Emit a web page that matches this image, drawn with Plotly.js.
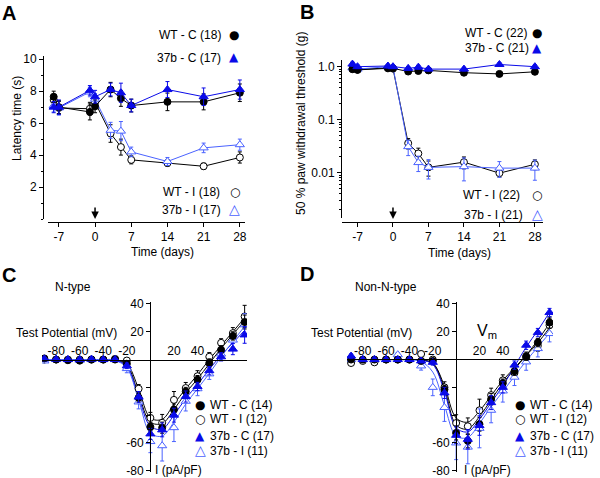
<!DOCTYPE html>
<html><head><meta charset="utf-8">
<script src="https://cdn.plot.ly/plotly-3.0.1.min.js"></script>
<style>html,body{margin:0;padding:0;background:#fff}#g{width:600px;height:478px}</style>
</head><body><div id="g"></div>
<script>
// ---------- DATA ----------
const days = [-8, -7, -1, 0, 3, 5, 7, 14, 21, 28];
const dayTicks = [-7, 0, 7, 14, 21, 28];
const dayTickText = ['-7', '0', '7', '14', '21', '28'];

// Panel A: latency time (s)
const A_WTC = [7.65, 7.0, 6.7, 7.05, 8.1, 7.55, 7.1, 7.33, 7.33, 7.9];
const A_WTC_err = [0.35, 0.4, 0.5, 0.4, 0.45, 0.5, 0.4, 0.55, 0.5, 0.55];
const A_37C = [7.0, 7.0, 8.05, 7.65, 8.1, 7.9, 7.1, 8.1, 7.65, 8.1];
const A_37C_err = [0.35, 0.45, 0.3, 0.4, 0.4, 0.6, 0.4, 0.5, 0.55, 0.6];
const A_WTI = [7.45, 6.95, 6.9, 7.3, 5.35, 4.5, 3.7, 3.5, 3.3, 3.85];
const A_WTI_err = [0.35, 0.4, 0.4, 0.4, 0.55, 0.5, 0.25, 0.2, 0.2, 0.35];
const A_37I = [7.1, 6.95, 7.95, 7.5, 5.55, 5.5, 4.2, 3.6, 4.45, 4.65];
const A_37I_err = [0.4, 0.45, 0.3, 0.35, 0.5, 0.6, 0.3, 0.25, 0.3, 0.35];
const A_ticks = [2, 4, 6, 8, 10];

// Panel B: 50 % paw withdrawal threshold (g)
const B_WTC = [0.9, 0.87, 0.93, 0.93, 0.81, 0.83, 0.85, 0.77, 0.73, 0.8];
const B_WTC_err = [0.08, 0.06, 0.08, 0.07, 0.06, 0.07, 0.06, 0.06, 0.06, 0.06];
const B_37C = [1.12, 1.0, 1.03, 1.0, 0.93, 0.98, 0.9, 0.9, 1.1, 1.0];
const B_37C_err = [0.1, 0.08, 0.08, 0.07, 0.07, 0.08, 0.07, 0.07, 0.08, 0.08];
const B_WTI = [0.9, 0.88, 0.95, 0.92, 0.036, 0.023, 0.0126, 0.0158, 0.0098, 0.0144];
const B_WTI_err = [0.08, 0.07, 0.08, 0.07, 0.008, 0.006, 0.004, 0.004, 0.0015, 0.003];
const B_37I = [0.95, 0.9, 1.0, 0.98, 0.031, 0.0155, 0.0126, 0.013, 0.0122, 0.0122];
const B_37I_err = [0.1, 0.08, 0.08, 0.08, 0.01, 0.005, 0.005, 0.006, 0.004, 0.005];
const B_ticks = [0.01, 0.1, 1];
const B_tickText = ['0.01', '0.1', '1.0'];

// Panels C/D: I-V relations
const mV = [-90, -80, -70, -60, -50, -40, -30, -20, -10, 0, 10, 20, 30, 40, 50, 60, 70, 80];
const ivTicksX = [-80, -60, -40, -20, 20, 40];
const ivTickTextX = ['-80', '-60', '-40', '-20', '20', '40'];
const ivTicksY = [40, 20, -20, -40, -60, -80];
const ivTickTextY = ['40', '20', '', '', '-60', '-80'];

// C: N-type
const C_WTC = [0.8, 0, -0.5, -0.8, 0, 0, 0, -3, -27.5, -48.5, -49, -36, -23, -14.5, -2.5, 7, 17, 27];
const C_WTC_err = [1, 1, 1, 1, 1, 1, 1, 1.5, 3, 3, 4, 4, 3, 3, 3, 3, 3, 5];
const C_WTI = [0, 0, 0, 0, 0, 0, 0.5, -0.7, -21, -42, -45.5, -29, -20.5, -12, 2, 12, 19, 31];
const C_WTI_err = [1, 1, 1, 1, 1, 1, 1, 2, 3, 4, 6, 6, 4, 4, 3, 3, 4, 8];
const C_37C = [0.5, 0.3, 0, 0, 0.3, 0, 0, -4.5, -27, -53.5, -50.6, -40, -26.6, -19.4, -8, 2, 7.5, 17.7];
const C_37C_err = [1, 1, 1, 1, 1, 1, 1, 2, 4, 4, 5, 5, 4, 3, 3, 3, 4, 6];
const C_37I = [-1, 0, 0, -0.5, 0, 0, 0, -6.5, -30.5, -59, -62, -49, -30, -21, -10.3, 4, 14, 25];
const C_37I_err = [1, 1, 1, 1, 1, 1, 1, 3, 5, 8, 11, 10, 7, 5, 4, 4, 5, 8];
// C fitted curves
const C_fit_WTC = [0, 0, 0, 0, 0, 0, -0.3, -4, -25, -45, -46, -36, -24, -14, -3, 8, 18, 28];
const C_fit_WTI = [0, 0, 0, 0, 0, 0, -0.2, -3, -21, -42, -43, -32, -21, -11, 0, 10, 20, 30];
const C_fit_37C = [0, 0, 0, 0, 0, 0, -0.5, -5, -27, -48, -50, -40, -28, -18, -7, 3, 12, 21];
const C_fit_37I = [0, 0, 0, 0, 0, 0, -0.6, -6, -29, -53, -55, -45, -32, -21, -10, 2, 13, 24];

// D: Non-N-type
const D_WTC = [0, 0, 0, 0, 0, 0, -1, -1, -21.6, -52.8, -58.5, -46.5, -28.5, -17, -8.4, 2.4, 12.2, 26.6];
const D_WTC_err = [1, 1, 1, 1, 1, 1, 1, 1.5, 3, 5, 5, 5, 4, 3, 3, 3, 3, 4];
const D_WTI = [-2.5, -1, -2, 0, 0, 0, 4, 0, -20, -45.7, -48, -36.5, -25.6, -15, -9.6, 1.4, 10, 24.7];
const D_WTI_err = [1.5, 1, 1.5, 1, 1, 1, 2, 1.5, 4, 6, 6, 8, 5, 4, 3, 3, 4, 5];
const D_37C = [2.5, 0, 0, 0, 0, 0, -1, -2, -24, -54.5, -57.4, -47.5, -31, -20, -4, 10.3, 19.4, 33.8];
const D_37C_err = [1.5, 1, 1, 1, 1, 1, 1, 2, 4, 6, 7, 7, 5, 4, 3, 3, 3, 3];
const D_37I = [0, 0, 0, 0, 3.5, 0, -4.6, -20, -34.5, -60, -63, -49.5, -36.5, -22.6, -12.7, -1.7, 7.9, 18.7];
const D_37I_err = [1, 1, 1, 1, 1.5, 1, 3, 6, 10, 12, 12, 14, 9, 8, 6, 6, 6, 6];
const D_fit_WTC = [0, 0, 0, 0, 0, 0, -0.3, -3, -21, -47, -50, -41, -29, -17, -7, 3, 14, 26];
const D_fit_WTI = [0, 0, 0, 0, 0, 0, -0.3, -2.5, -19, -42, -45, -37, -26, -15, -6, 3, 12, 23];
const D_fit_37C = [0, 0, 0, 0, 0, 0, -0.4, -3.5, -23, -49, -52, -43, -31, -19, -5, 9, 21, 34];
const D_fit_37I = [0, 0, 0, 0, 0, -0.3, -1.5, -9, -33, -55, -56, -46, -34, -23, -12, -1, 9, 19];

// ---------- STYLE ----------
const FONT = 'Arial, "Liberation Sans", Helvetica, sans-serif';
const SYMFONT = '"DejaVu Sans", sans-serif';
const BLACK = '#000000', BLUE = '#0a0ae8', LBLUE = '#4a62ff';
const W = 600, H = 478;
const px = v => v / W, py = v => 1 - v / H;

function pts(x, y, e, xa, ya, sym, col, filled, size, mode) {
  return {
    x: x, y: y, xaxis: xa, yaxis: ya, type: 'scatter', mode: mode || 'lines+markers',
    showlegend: false, hoverinfo: 'skip',
    line: {color: col, width: 1},
    marker: {symbol: sym, size: size, color: filled ? col : '#ffffff', line: {color: col, width: 1}},
    error_y: {type: 'data', array: e, visible: true, color: col, thickness: 1, width: 2}
  };
}
function fit(x, y, xa, ya, col) {
  return {x: x, y: y, xaxis: xa, yaxis: ya, type: 'scatter', mode: 'lines', showlegend: false,
    hoverinfo: 'skip', line: {color: col, width: 1, shape: 'spline', smoothing: 1}};
}

const traces = [
  pts(days, A_WTI, A_WTI_err, 'x', 'y', 'circle', BLACK, false, 7),
  pts(days, A_37I, A_37I_err, 'x', 'y', 'triangle-up', LBLUE, false, 8),
  pts(days, A_WTC, A_WTC_err, 'x', 'y', 'circle', BLACK, true, 7),
  pts(days, A_37C, A_37C_err, 'x', 'y', 'triangle-up', BLUE, true, 8),

  pts(days, B_WTI, B_WTI_err, 'x2', 'y2', 'circle', BLACK, false, 7),
  pts(days, B_37I, B_37I_err, 'x2', 'y2', 'triangle-up', LBLUE, false, 8),
  pts(days, B_WTC, B_WTC_err, 'x2', 'y2', 'circle', BLACK, true, 7),
  pts(days, B_37C, B_37C_err, 'x2', 'y2', 'triangle-up', BLUE, true, 8),

  fit(mV, C_fit_WTC, 'x3', 'y3', BLACK),
  fit(mV, C_fit_WTI, 'x3', 'y3', BLACK),
  fit(mV, C_fit_37C, 'x3', 'y3', BLUE),
  fit(mV, C_fit_37I, 'x3', 'y3', LBLUE),
  pts(mV, C_WTI, C_WTI_err, 'x3', 'y3', 'circle', BLACK, false, 7, 'markers'),
  pts(mV, C_37I, C_37I_err, 'x3', 'y3', 'triangle-up', LBLUE, false, 8, 'markers'),
  pts(mV, C_WTC, C_WTC_err, 'x3', 'y3', 'circle', BLACK, true, 7, 'markers'),
  pts(mV, C_37C, C_37C_err, 'x3', 'y3', 'triangle-up', BLUE, true, 8, 'markers'),

  fit(mV, D_fit_WTC, 'x4', 'y4', BLACK),
  fit(mV, D_fit_WTI, 'x4', 'y4', BLACK),
  fit(mV, D_fit_37C, 'x4', 'y4', BLUE),
  fit(mV, D_fit_37I, 'x4', 'y4', LBLUE),
  pts(mV, D_WTI, D_WTI_err, 'x4', 'y4', 'circle', BLACK, false, 7, 'markers'),
  pts(mV, D_37I, D_37I_err, 'x4', 'y4', 'triangle-up', LBLUE, false, 8, 'markers'),
  pts(mV, D_WTC, D_WTC_err, 'x4', 'y4', 'circle', BLACK, true, 7, 'markers'),
  pts(mV, D_37C, D_37C_err, 'x4', 'y4', 'triangle-up', BLUE, true, 8, 'markers')
];

const axBase = {
  showgrid: false, zeroline: false, showline: true, linecolor: '#000', linewidth: 1,
  ticks: 'outside', ticklen: 4, tickwidth: 1, tickcolor: '#000',
  tickfont: {size: 12, color: '#000', family: FONT}, fixedrange: true, anchor: 'free'
};

function T(text, x, y, size, color, xanchor, extra, family) {
  return Object.assign({
    text: text, xref: 'paper', yref: 'paper', x: px(x), y: py(y), showarrow: false,
    xanchor: xanchor || 'center', yanchor: 'middle', borderpad: 0,
    font: {family: family || FONT, size: size || 12, color: color || '#000'}
  }, extra || {});
}
function S(sym, x, y, color, size) {
  return T(sym, x, y, size || 12, color, 'center', null, SYMFONT);
}
function arrow(xref) {
  return {text: '', xref: xref, yref: 'paper', x: 0, y: py(219), ax: 0, ay: -13,
    showarrow: true, arrowhead: 2, arrowsize: 1, arrowwidth: 1.5, arrowcolor: '#000'};
}

const ann = [
  T('<b>A</b>', 1, 13, 20, '#000', 'left'),
  T('<b>B</b>', 299, 12, 20, '#000', 'left'),
  T('<b>C</b>', 1, 275, 20, '#000', 'left'),
  T('<b>D</b>', 299, 274, 20, '#000', 'left'),

  T('Latency time (s)', 17, 119, 12, '#000', 'center', {textangle: -90}),
  T('50 % paw withdrawal threshold (g)', 301, 124, 12, '#000', 'center', {textangle: -90}),
  T('Time (days)', 162, 252, 12),
  T('Time (days)', 459, 253, 12),

  T('WT - C (18)', 222, 35, 12, '#000', 'right'), S('●', 234, 35, BLACK),
  T('37b - C (17)', 222, 58, 12, '#000', 'right'), S('▲', 234, 57, BLUE),
  T('WT - I (18)', 221, 192, 12, '#000', 'right'), S('○', 235, 192, BLACK),
  T('37b - I (17)', 222, 210, 12, '#000', 'right'), S('△', 234, 209, LBLUE, 14),

  T('WT - C (22)', 528, 33, 12, '#000', 'right'), S('●', 537, 33, BLACK),
  T('37b - C (21)', 530, 48, 12, '#000', 'right'), S('▲', 537, 48, BLUE),
  T('WT - I (22)', 521, 195, 12, '#000', 'right'), S('○', 537, 195, BLACK),
  T('37b - I (21)', 524, 215, 12, '#000', 'right'), S('△', 537, 214, LBLUE, 14),

  arrow('x'), arrow('x2'),

  T('N-type', 73, 287, 12),
  T('Non-N-type', 386, 287, 12),
  T('Test Potential (mV)', 66, 333, 12),
  T('Test Potential (mV)', 361, 333, 12),
  T('V<sub>m</sub>', 487, 331, 16),
  T('I (pA/pF)', 154, 470, 12, '#000', 'left'),
  T('I (pA/pF)', 463, 470, 12, '#000', 'left'),

  S('●', 200, 405, BLACK), T('WT - C (14)', 209, 405, 12, '#000', 'left'),
  S('○', 200, 419, BLACK), T('WT - I (12)', 209, 419, 12, '#000', 'left'),
  S('▲', 200, 436, BLUE), T('37b - C (17)', 209, 436, 12, '#000', 'left'),
  S('△', 200, 450, LBLUE, 14), T('37b - I (11)', 209, 451, 12, '#000', 'left'),

  S('●', 520, 405, BLACK), T('WT - C (14)', 529, 405, 12, '#000', 'left'),
  S('○', 520, 419, BLACK), T('WT - I (12)', 529, 419, 12, '#000', 'left'),
  S('▲', 520, 436, BLUE), T('37b - C (17)', 529, 436, 12, '#000', 'left'),
  S('△', 520, 450, LBLUE, 14), T('37b - I (11)', 529, 451, 12, '#000', 'left')
];

const layout = {
  width: W, height: H, autosize: false, margin: {l: 0, r: 0, t: 0, b: 0},
  paper_bgcolor: '#fff', plot_bgcolor: 'rgba(0,0,0,0)', showlegend: false,
  font: {family: FONT, color: '#000', size: 12},
  xaxis: Object.assign({}, axBase, {domain: [px(48), px(245)], range: [-9.1, 29], position: py(222),
    tickvals: dayTicks, ticktext: dayTickText}),
  yaxis: Object.assign({}, axBase, {domain: [py(219), py(56)], range: [0, 10.2], position: px(43), tickvals: A_ticks,
    minor: {tick0: 0, dtick: 1, ticklen: 2, ticks: 'outside', tickcolor: '#000'}}),
  xaxis2: Object.assign({}, axBase, {domain: [px(342), px(543)], range: [-10.06, 29.6], position: py(222),
    tickvals: dayTicks, ticktext: dayTickText}),
  yaxis2: Object.assign({}, axBase, {type: 'log', domain: [py(218), py(60)], range: [-2.855, 0.126], position: px(341),
    tickvals: B_ticks, ticktext: B_tickText,
    minor: {dtick: 'D1', ticklen: 2, ticks: 'outside', tickcolor: '#000'}}),
  xaxis3: Object.assign({}, axBase, {domain: [px(42), px(247)], range: [-92, 82], position: py(359.5), side: 'top', ticks: '',
    tickvals: ivTicksX, ticktext: ivTickTextX}),
  yaxis3: Object.assign({}, axBase, {domain: [py(472), py(302)], range: [-80.9, 41.4], position: px(150),
    tickvals: ivTicksY, ticktext: ivTickTextY}),
  xaxis4: Object.assign({}, axBase, {domain: [px(347), px(553)], range: [-93.5, 83], position: py(359.3), side: 'top', ticks: '',
    tickvals: ivTicksX, ticktext: ivTickTextX}),
  yaxis4: Object.assign({}, axBase, {domain: [py(472), py(302)], range: [-80.9, 41.4], position: px(456),
    tickvals: ivTicksY, ticktext: ivTickTextY}),
  annotations: ann
};

Plotly.newPlot('g', traces, layout, {staticPlot: true, displayModeBar: false});
</script></body></html>
